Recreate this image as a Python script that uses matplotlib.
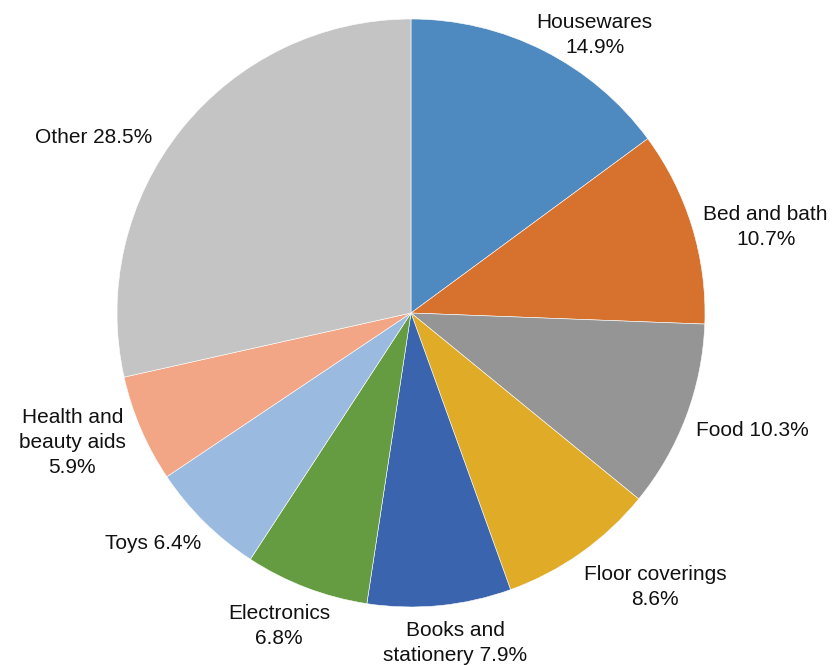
import numpy as np
import matplotlib.pyplot as plt

plt.rcParams['font.family'] = ['Liberation Sans', 'DejaVu Sans']

# category shares (percent), clockwise from 12 o'clock
names = ['Housewares', 'Bed and bath', 'Food', 'Floor coverings',
         'Books and\nstationery', 'Electronics', 'Toys',
         'Health and\nbeauty aids', 'Other']
seps = ['\n', '\n', ' ', '\n', ' ', '\n', ' ', '\n', ' ']
shares = [14.9, 10.7, 10.3, 8.6, 7.9, 6.8, 6.4, 5.9, 28.5]
colors = ['#4e89bf', '#d6722e', '#959595', '#e0ab27', '#3a64ad',
          '#659c41', '#9bbae0', '#f2a686', '#c4c4c4']
# small nudges (pixels) for the labels, like excel's placement
nudges = [(-11, -14), (3, -3), (2, -10), (-2, -5), (15, -7),
          (27, -8), (3, -6), (-7, -10), (-22, -14)]

fig = plt.figure(figsize=(8.32, 6.65), dpi=100)
ax = fig.add_axes([0, 0, 1, 1])

wedges, _ = ax.pie(shares, colors=colors, startangle=90, counterclock=False,
                   radius=1.0, wedgeprops=dict(edgecolor='white', linewidth=0.4))

# outside-end labels, anchored by the corner nearest the pie
for w, n, s, v, d in zip(wedges, names, seps, shares, nudges):
    ang = np.deg2rad((w.theta1 + w.theta2) / 2)
    c, sn = np.cos(ang), np.sin(ang)
    ha = 'left' if c > 0.2 else ('right' if c < -0.2 else 'center')
    va = 'bottom' if sn > 0.7 else ('top' if sn < -0.7 else 'center')
    r = 1.03
    ax.annotate(f'{n}{s}{v}%', (r * c, r * sn), xytext=d,
                textcoords='offset pixels', ha=ha, va=va, ma='center',
                fontsize=15, linespacing=1.4, color='#111111')

ax.set_xlim(-411 / 294, (832 - 411) / 294)
ax.set_ylim(-(665 - 313) / 294, 313 / 294)
ax.set_aspect('equal')
ax.axis('off')

fig.savefig('out.png', dpi=100)
